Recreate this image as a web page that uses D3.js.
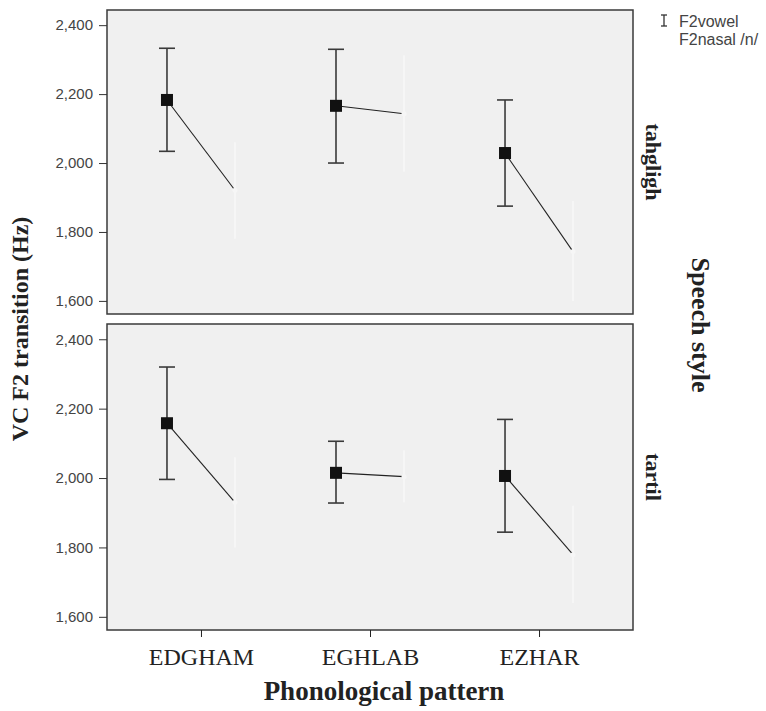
<!DOCTYPE html>
<html lang="en">
<head>
<meta charset="utf-8">
<title>VC F2 transition</title>
<script src="https://cdn.jsdelivr.net/npm/d3@7"></script>
<style>
  body { margin: 0; background: #fff; }
  svg { display: block; }
</style>
</head>
<body>
<script>
// categories and panels
var patterns = ["EDGHAM", "EGHLAB", "EZHAR"];
var styles = ["tahgligh", "tartil"];
var yTicks = [1600, 1800, 2000, 2200, 2400];

// F2 vowel: mean and error bar ends, one array per speech style
var vowelMean = { tahgligh: [2183, 2166, 2029], tartil: [2158, 2015, 2006] };
var vowelLow  = { tahgligh: [2034, 2000, 1875], tartil: [1996, 1928, 1844] };
var vowelHigh = { tahgligh: [2333, 2330, 2183], tartil: [2320, 2106, 2169] };

// F2 nasal /n/ (drawn almost white in the original)
var nasalMean = { tahgligh: [1921, 2143, 1743], tartil: [1930, 2004, 1779] };
var nasalLow  = { tahgligh: [1780, 1975, 1600], tartil: [1800, 1930, 1640] };
var nasalHigh = { tahgligh: [2060, 2313, 1890], tartil: [2060, 2080, 1920] };

var width = 766, height = 711;
var left = 107, right = 633;
var panels = [ { top: 10, bottom: 314 }, { top: 324, bottom: 630 } ];
var off = 34; // vowel left of tick, nasal right of tick

var svg = d3.select("body").append("svg")
  .attr("width", width).attr("height", height);

var x = d3.scalePoint().domain(patterns).range([left, right]).padding(0.556);

styles.forEach(function(s, i) {
  var p = panels[i];
  var y = d3.scaleLinear().domain([1562, 2444]).range([p.bottom, p.top]);
  var g = svg.append("g");

  g.append("rect")
    .attr("x", left).attr("y", p.top)
    .attr("width", right - left).attr("height", p.bottom - p.top)
    .attr("fill", "#f0f0f0").attr("stroke", "#3a3a3a").attr("stroke-width", 1.5);

  // y axis
  var ya = g.append("g").attr("transform", "translate(" + left + ",0)")
    .call(d3.axisLeft(y).tickValues(yTicks).tickSize(8).tickPadding(6).tickFormat(d3.format(",")));
  ya.select(".domain").remove();
  ya.selectAll("line").attr("stroke", "#333");
  ya.selectAll("text").attr("font-family", "Liberation Sans, Arial, sans-serif")
    .attr("font-size", 15).attr("fill", "#444");

  // nasal error bars (near white, as in the original)
  patterns.forEach(function(c, j) {
    var xn = x(c) + off;
    g.append("line").attr("x1", xn).attr("x2", xn)
      .attr("y1", y(nasalLow[s][j])).attr("y2", y(nasalHigh[s][j]))
      .attr("stroke", "#f8f8f8").attr("stroke-width", 1.5);
  });

  // connecting lines vowel -> nasal
  patterns.forEach(function(c, j) {
    g.append("line")
      .attr("x1", x(c) - off).attr("y1", y(vowelMean[s][j]))
      .attr("x2", x(c) + off).attr("y2", y(nasalMean[s][j]))
      .attr("stroke", "#222").attr("stroke-width", 1.1);
  });

  // vowel error bars
  patterns.forEach(function(c, j) {
    var xv = x(c) - off;
    var eb = g.append("g").attr("stroke", "#3a3a3a").attr("stroke-width", 1.6);
    eb.append("line").attr("x1", xv).attr("x2", xv)
      .attr("y1", y(vowelLow[s][j])).attr("y2", y(vowelHigh[s][j]));
    [vowelLow[s][j], vowelHigh[s][j]].forEach(function(v) {
      eb.append("line").attr("x1", xv - 8).attr("x2", xv + 8)
        .attr("y1", y(v)).attr("y2", y(v));
    });
  });

  // markers
  g.selectAll(".vm").data(patterns).enter().append("rect")
    .attr("x", function(c) { return x(c) - off - 6; })
    .attr("y", function(c, j) { return y(vowelMean[s][j]) - 6; })
    .attr("width", 12).attr("height", 12).attr("fill", "#111");
  g.selectAll(".nm").data(patterns).enter().append("circle")
    .attr("cx", function(c) { return x(c) + off; })
    .attr("cy", function(c, j) { return y(nasalMean[s][j]); })
    .attr("r", 2.5).attr("fill", "#f6f6f6");

  // panel strip label
  var cy = (p.top + p.bottom) / 2;
  svg.append("text")
    .attr("transform", "translate(646," + cy + ") rotate(90)")
    .attr("text-anchor", "middle")
    .attr("font-family", "Liberation Serif, Times New Roman, serif")
    .attr("font-weight", "bold").attr("font-size", 22).attr("fill", "#222")
    .text(s);
});

// x axis under lower panel
var xa = svg.append("g").attr("transform", "translate(0," + panels[1].bottom + ")")
  .call(d3.axisBottom(x).tickSize(7).tickPadding(11));
xa.select(".domain").remove();
xa.selectAll("line").attr("stroke", "#222");
xa.selectAll("text").attr("font-family", "Liberation Serif, Times New Roman, serif")
  .attr("font-size", 24).attr("fill", "#222");

// titles
svg.append("text")
  .attr("x", 384).attr("y", 700).attr("text-anchor", "middle")
  .attr("font-family", "Liberation Serif, Times New Roman, serif")
  .attr("font-weight", "bold").attr("font-size", 27).attr("fill", "#222")
  .text("Phonological pattern");

svg.append("text")
  .attr("transform", "translate(28,329) rotate(-90)")
  .attr("text-anchor", "middle")
  .attr("font-family", "Liberation Serif, Times New Roman, serif")
  .attr("font-weight", "bold").attr("font-size", 24).attr("fill", "#222")
  .text("VC F2 transition (Hz)");

svg.append("text")
  .attr("transform", "translate(692,325) rotate(90)")
  .attr("text-anchor", "middle")
  .attr("font-family", "Liberation Serif, Times New Roman, serif")
  .attr("font-weight", "bold").attr("font-size", 26).attr("fill", "#222")
  .text("Speech style");

// legend
var lg = svg.append("g").attr("font-family", "Liberation Sans, Arial, sans-serif")
  .attr("font-size", 16).attr("fill", "#444");
var li = lg.append("g").attr("stroke", "#333").attr("stroke-width", 1.3);
li.append("line").attr("x1", 664).attr("x2", 664).attr("y1", 15).attr("y2", 26);
li.append("line").attr("x1", 661).attr("x2", 667).attr("y1", 15).attr("y2", 15);
li.append("line").attr("x1", 661).attr("x2", 667).attr("y1", 26).attr("y2", 26);
lg.append("text").attr("x", 679).attr("y", 27).text("F2vowel");
lg.append("text").attr("x", 679).attr("y", 45).text("F2nasal /n/");
</script>
</body>
</html>
